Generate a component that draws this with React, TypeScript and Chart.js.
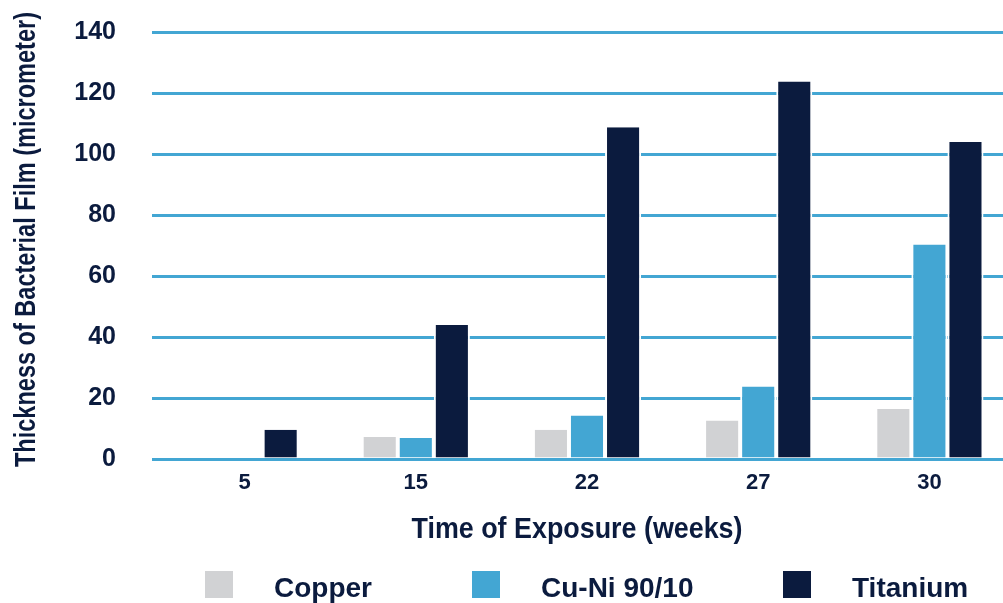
import React, { useEffect, useRef } from "react";
import { Chart, registerables } from "chart.js";

Chart.register(...registerables);

// ---- data ----
const categories = ["5", "15", "22", "27", "30"];
const copper = [0, 7.2, 9.6, 12.6, 16.4];
const cuNi = [0, 6.9, 14.3, 23.8, 70.3];
const titanium = [9.6, 43.9, 108.8, 123.8, 103.9];
const seriesNames = ["Copper", "Cu-Ni 90/10", "Titanium"];
const seriesColors = ["#d1d2d4", "#43a6d3", "#0b1b3e"];
const yMin = 0;
const yMax = 140;
const yStep = 20;
const xTitle = "Time of Exposure (weeks)";
const yTitle = "Thickness of Bacterial Film (micrometer)";

// ---- styles ----
const NAVY = "#0b1b3e";
const GRID = "#43a6d3";
const SANS = '"Liberation Sans", Arial, sans-serif';

const legendLayout = { boxX: [205, 472, 783], boxY: 571, boxW: 28, boxH: 27, textDx: 69, baseline: 597, size: 28 };
const titleLayout = {
  x: { cx: 577, baseline: 538, size: 30, maxWidth: 331 },
  y: { cy: 239.5, baseline: 35, size: 29, maxWidth: 455 },
};

const customLegend = {
  id: "customLegend",
  afterDraw(chart: any) {
    const ctx = chart.ctx;
    ctx.save();
    ctx.font = `bold ${legendLayout.size}px ${SANS}`;
    ctx.textBaseline = "alphabetic";
    ctx.textAlign = "left";
    chart.data.datasets.forEach((ds: any, i: number) => {
      const x = legendLayout.boxX[i];
      ctx.fillStyle = ds.backgroundColor;
      ctx.fillRect(x, legendLayout.boxY, legendLayout.boxW, legendLayout.boxH);
      ctx.fillStyle = NAVY;
      ctx.fillText(ds.label, x + legendLayout.textDx, legendLayout.baseline);
    });
    ctx.restore();
  },
};

// condensed axis titles (fillText with maxWidth narrows the glyphs)
const condensedTitles = {
  id: "condensedTitles",
  afterDraw(chart: any) {
    const ctx = chart.ctx;
    ctx.save();
    ctx.fillStyle = NAVY;
    ctx.textBaseline = "alphabetic";
    ctx.textAlign = "center";
    const tx = titleLayout.x;
    ctx.font = `bold ${tx.size}px ${SANS}`;
    ctx.fillText(xTitle, tx.cx, tx.baseline, tx.maxWidth);
    const ty = titleLayout.y;
    ctx.translate(ty.baseline, ty.cy);
    ctx.rotate(-Math.PI / 2);
    ctx.font = `bold ${ty.size}px ${SANS}`;
    ctx.fillText(yTitle, 0, 0, ty.maxWidth);
    ctx.restore();
  },
};

export default function App() {
  const ref = useRef<HTMLCanvasElement | null>(null);

  useEffect(() => {
    document.body.style.margin = "0";
    const canvas = ref.current;
    if (!canvas) return;
    const values = [copper, cuNi, titanium];
    const chart = new Chart(canvas, {
      type: "bar",
      data: {
        labels: categories,
        datasets: seriesNames.map((name, i) => ({
          label: name,
          data: values[i],
          backgroundColor: seriesColors[i],
          borderColor: "#ffffff",
          borderWidth: { top: 0, left: 2, right: 2, bottom: 0 },
          borderSkipped: "start",
          categoryPercentage: 0.632,
          barPercentage: 1,
        })),
      },
      options: {
        responsive: false,
        animation: false,
        devicePixelRatio: 1,
        layout: { padding: { top: 32, bottom: 55, left: 0, right: 0 } },
        plugins: {
          legend: { display: false },
          tooltip: { enabled: false },
        },
        scales: {
          x: {
            z: 1,
            grid: { display: false, drawTicks: false },
            border: { display: true, color: GRID, width: 3 },
            ticks: {
              color: NAVY,
              font: { family: SANS, size: 22, weight: "bold" },
              padding: 11,
            },
            title: { display: false, text: xTitle },
            afterFit(scale: any) {
              scale.height = 603 - 55 - 459;
            },
          },
          y: {
            min: yMin,
            max: yMax,
            grid: {
              color: GRID,
              lineWidth: 3,
              drawTicks: true,
              tickLength: 7,
              tickColor: GRID,
            },
            border: { display: false },
            ticks: {
              stepSize: yStep,
              color: NAVY,
              font: { family: SANS, size: 25, weight: "bold" },
              padding: 36,
            },
            title: { display: false, text: yTitle },
            afterFit(scale: any) {
              scale.width = 159;
              scale.paddingTop = 0;
              scale.paddingBottom = 0;
            },
          },
        },
      },
      plugins: [customLegend, condensedTitles],
    });
    return () => chart.destroy();
  }, []);

  return (
    <div style={{ width: 1003, height: 603, overflow: "hidden", position: "relative", background: "#ffffff" }}>
      <canvas ref={ref} width={1015} height={603} style={{ display: "block" }} />
    </div>
  );
}
